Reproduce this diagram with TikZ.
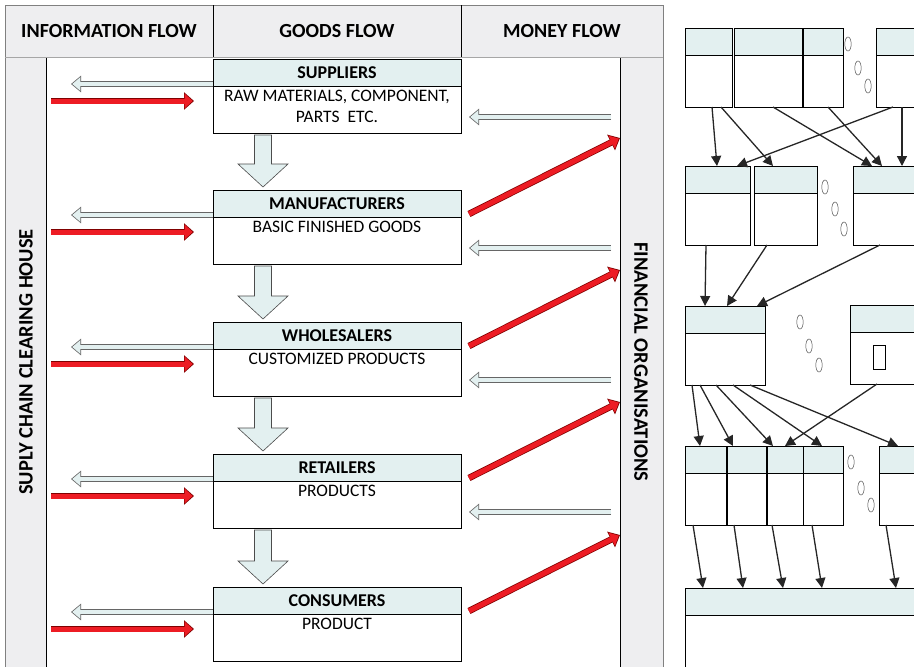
\documentclass[tikz,border=0pt]{standalone}
\usepackage{fontspec}
\setmainfont{Carlito}
\usetikzlibrary{arrows.meta, positioning, calc, shapes.geometric}

\definecolor{panelgray}{RGB}{238,238,240}
\definecolor{headfill}{RGB}{227,240,240}
\definecolor{flowred}{RGB}{237,28,36}

\begin{document}
\begin{tikzpicture}[x=1pt, y=-1pt,
        colhead/.style={font=\bfseries\fontsize{20}{24}\selectfont},
        sidetext/.style={font=\bfseries\fontsize{20.5}{24}\selectfont},
        stage/.style={rectangle, draw, fill=headfill, minimum width=248pt, minimum height=27pt,
                      inner sep=0pt, outer sep=0pt, font=\bfseries\fontsize{18}{21}\selectfont},
        stagebody/.style={rectangle, draw, fill=white, minimum width=248pt, minimum height=47pt,
                          inner sep=0pt, outer sep=0pt},
        bodytext/.style={align=center, inner sep=2pt, font=\fontsize{17.5}{20.5}\selectfont},
        goods/.style={fill=headfill, draw=black!70, line width=0.6pt},
        infoflow/.style={line width=6pt, draw=black!60, -{Triangle[length=10pt, width=16pt]},
                         postaction={draw=headfill, line width=4.6pt, shorten >=1.3pt,
                                     -{Triangle[length=8pt, width=13pt]}}},
        redflow/.style={line width=6.5pt, draw=red!50!black, -{Triangle[length=10pt, width=17pt]},
                        postaction={draw=flowred, line width=5pt, shorten >=1.3pt,
                                    -{Triangle[length=8pt, width=14pt]}}},
        rbox/.style={rectangle, draw, anchor=north west, minimum width=#1, minimum height=79pt,
                     inner sep=0pt, outer sep=0pt,
                     path picture={
                       \fill[headfill] (path picture bounding box.north west) rectangle
                         ($(path picture bounding box.north east)+(0,27)$);
                       \draw ($(path picture bounding box.north west)+(0,27)$) --
                         ($(path picture bounding box.north east)+(0,27)$);}},
        link/.style={line width=1.3pt, draw=black!85, -{Triangle[length=10pt, width=10pt]}},
        blob/.style={draw=black!70, line width=0.5pt, fill=white}
      ]
      \useasboundingbox (0,0) rectangle (914,667);
      \clip (0,0) rectangle (914,667);

      % --- left panel frame ---
      \draw[draw=gray, fill=panelgray] (5,5) rectangle (663,700);
      \draw[fill=white] (46,57) rectangle (620,700);
      \draw[gray!70] (5,57) -- (663,57);
      \draw (213,5) -- (213,57);
      \draw (461,5) -- (461,57);
      \coordinate (inner_w) at (46,0);
      \coordinate (inner_e) at (620,0);

      % column headings
      \node (info_head) [colhead] at (109,31) {INFORMATION FLOW};
      \node (goods_head) [colhead] at (337,31) {GOODS FLOW};
      \node (money_head) [colhead] at (562,31) {MONEY FLOW};
      \node (clear) [sidetext, rotate=90] at (26,362) {SUPLY CHAIN CLEARING HOUSE};
      \node (fin) [sidetext, rotate=-90] at (641,362) {FINANCIAL ORGANISATIONS};

      % --- stages of the chain ---
      \node (sup) [stage, anchor=north west] at (213,59) {SUPPLIERS};
      \node (sup_body) [stagebody, below=0pt of sup] {};
      \node (sup_txt) [bodytext, below=2pt of sup_body.north] {RAW MATERIALS, COMPONENT,\\PARTS\ \ ETC.};
      \node (man) [stage, below=57pt of sup_body] {MANUFACTURERS};
      \node (man_body) [stagebody, below=0pt of man] {};
      \node (man_txt) [bodytext, below=2pt of man_body.north] {BASIC FINISHED GOODS};
      \node (who) [stage, below=58pt of man_body] {WHOLESALERS};
      \node (who_body) [stagebody, below=0pt of who] {};
      \node (who_txt) [bodytext, below=2pt of who_body.north] {CUSTOMIZED PRODUCTS};
      \node (ret) [stage, below=58pt of who_body] {RETAILERS};
      \node (ret_body) [stagebody, below=0pt of ret] {};
      \node (ret_txt) [bodytext, below=2pt of ret_body.north] {PRODUCTS};
      \node (con) [stage, below=59pt of ret_body] {CONSUMERS};
      \node (con_body) [stagebody, below=0pt of con] {};
      \node (con_txt) [bodytext, below=2pt of con_body.north] {PRODUCT};

      % goods flow arrows
      \foreach \a/\b in {sup/man, man/who, who/ret, ret/con}
        \filldraw[goods] ($(\a_body.south)+(-82.5,2)$) -- ($(\b.north)+(-82.5,-26)$)
          -- ($(\b.north)+(-99,-26)$) -- ($(\b.north)+(-74,-3)$) -- ($(\b.north)+(-49,-26)$)
          -- ($(\b.north)+(-65.5,-26)$) -- ($(\a_body.south)+(-65.5,2)$) -- cycle;

      % information flow
      \foreach \n in {sup,man,who,ret,con}{
        \draw[infoflow] ($(\n.south west)+(0,-2)$) -- ($(\n.south west -| inner_w)+(25,-2)$);
        \draw[redflow] ($(\n_body.north west -| inner_w)+(5,15)$) -- ($(\n_body.north west)+(-19,15)$);
      }

      % money flow
      \foreach \n in {sup,man,who,ret}
        \draw[infoflow] ($(\n_body.north east -| inner_e)+(-9,31)$) -- ($(\n_body.north east)+(8,31)$);
      \foreach \n in {man,who,ret,con}
        \draw[redflow] ($(\n.south east)+(8,-3)$) -- ($(\n.south east -| inner_e)+(0,-79)$);

      % --- right panel ---
      \node (r1a) [rbox=47pt] at (685,28) {};
      \node (r1b) [rbox=68pt] at (734,28) {};
      \node (r1c) [rbox=40pt] at (803,28) {};
      \node (r1d) [rbox=70pt] at (876,28) {};
      \node (r2a) [rbox=65pt] at (685,166) {};
      \node (r2b) [rbox=63pt] at (754,166) {};
      \node (r2c) [rbox=80pt] at (853,166) {};
      \node (r3a) [rbox=80pt] at (685,306) {};
      \node (r3b) [rbox=90pt] at (850,305) {};
      \node (r4a) [rbox=42pt] at (685,446) {};
      \node (r4b) [rbox=40pt] at (727,446) {};
      \node (r4c) [rbox=36pt] at (767,446) {};
      \node (r4d) [rbox=40pt] at (803,446) {};
      \node (r4e) [rbox=70pt] at (879,446) {};
      \node (r5) [rbox=260pt, minimum height=100pt] at (685,588) {};
      \draw[line width=1.6pt] (r4b.north west) -- (r4b.south west);
      \draw[line width=1.6pt] (r4c.north west) -- (r4c.south west);
      \node (r3b_mark) [draw, line width=1.3pt, minimum width=12pt, minimum height=24pt, inner sep=0pt]
        at (879.5,357.5) {};

      % dots between boxes
      \foreach \x/\y in {848/44, 858/68, 868/86, 825/187, 835/209, 844/229,
                         800/322, 809/346, 819/365, 851/462, 861/488, 871/505}
        \draw[blob] (\x,\y) ellipse (3.2 and 7);

      % links between levels
      \foreach \a/\da/\b/\db in {r1a/27/r2a/32, r1a/36/r2b/19, r1b/39/r2c/19, r1c/25/r2c/29,
                                 r1d/17/r2a/52, r1d/26/r2c/49,
                                 r2a/21/r3a/20, r2b/13/r3a/42, r2c/27/r3a/72,
                                 r3a/7/r4a/15, r3a/15/r4b/6, r3a/31/r4c/6, r3a/48/r4d/19,
                                 r3a/65/r4e/19, r3b/27/r4c/18,
                                 r4a/8/r5/18, r4b/7/r5/58, r4c/5/r5/98, r4d/9/r5/137, r4e/7/r5/211}
        \draw[link] ($(\a.south west)+(\da,0)$) -- ($(\b.north west)+(\db,0)$);

    \end{tikzpicture}
\end{document}
